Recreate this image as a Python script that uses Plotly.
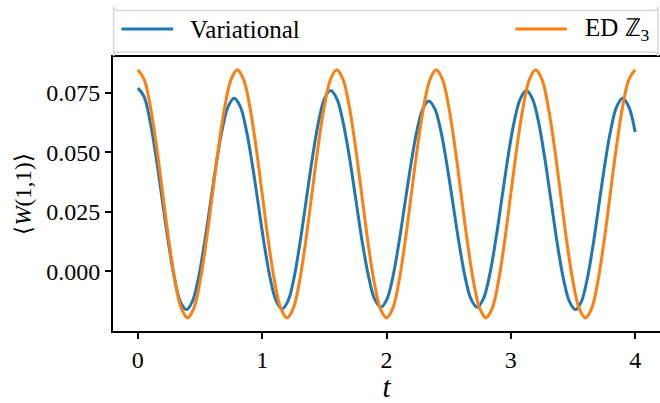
import plotly.graph_objects as go

# ED Z3 (read every 0.05 in t)
t_ed = [round(0.05 * i, 2) for i in range(81)]
v_ed = [0.0847, 0.0807, 0.0694, 0.0525, 0.0325, 0.0125, -0.0044, -0.0157,
        -0.0197, -0.0157, -0.0044, 0.0125, 0.0325, 0.0525, 0.0694, 0.0807,
        0.0847, 0.0807, 0.0694, 0.0525, 0.0325, 0.0125, -0.0044, -0.0157,
        -0.0197, -0.0157, -0.0044, 0.0125, 0.0325, 0.0525, 0.0694, 0.0807,
        0.0847, 0.0807, 0.0694, 0.0525, 0.0325, 0.0125, -0.0044, -0.0157,
        -0.0197, -0.0157, -0.0044, 0.0125, 0.0325, 0.0525, 0.0694, 0.0807,
        0.0847, 0.0807, 0.0694, 0.0525, 0.0325, 0.0125, -0.0044, -0.0157,
        -0.0197, -0.0157, -0.0044, 0.0125, 0.0325, 0.0525, 0.0694, 0.0807,
        0.0847, 0.0807, 0.0694, 0.0525, 0.0325, 0.0125, -0.0044, -0.0157,
        -0.0197, -0.0157, -0.0044, 0.0125, 0.0325, 0.0525, 0.0694, 0.0807,
        0.0847]

# Variational (read at extrema and between them)
t_var = [0.0, 0.049, 0.0975, 0.146, 0.195, 0.244, 0.2925, 0.341,
         0.39, 0.438, 0.486, 0.534, 0.583, 0.631, 0.679, 0.727,
         0.775, 0.823, 0.871, 0.919, 0.968, 1.016, 1.064, 1.112,
         1.16, 1.209, 1.2575, 1.306, 1.355, 1.404, 1.4525, 1.501,
         1.55, 1.601, 1.651, 1.702, 1.7525, 1.803, 1.854, 1.904,
         1.955, 2.003, 2.051, 2.099, 2.1475, 2.196, 2.244, 2.292,
         2.34, 2.389, 2.4375, 2.486, 2.535, 2.584, 2.6325, 2.681,
         2.73, 2.779, 2.829, 2.878, 2.9275, 2.977, 3.026, 3.076,
         3.125, 3.174, 3.224, 3.273, 3.3225, 3.372, 3.421, 3.471,
         3.52, 3.5675, 3.615, 3.6625, 3.71, 3.7575, 3.805, 3.8525,
         3.90, 3.95, 4.0]
v_var = [0.0770, 0.0735, 0.0633, 0.0482, 0.0304, 0.0126, -0.0025, -0.0127,
         -0.0162, -0.0128, -0.0032, 0.0112, 0.0283, 0.0453, 0.0597, 0.0693,
         0.0727, 0.0693, 0.0597, 0.0454, 0.0284, 0.0114, -0.0029, -0.0125,
         -0.0159, -0.0124, -0.0025, 0.0125, 0.0301, 0.0477, 0.0626, 0.0726,
         0.0760, 0.0725, 0.0626, 0.0479, 0.0304, 0.0129, -0.0018, -0.0117,
         -0.0152, -0.0119, -0.0025, 0.0116, 0.0282, 0.0448, 0.0589, 0.0683,
         0.0716, 0.0683, 0.0589, 0.0448, 0.0282, 0.0116, -0.0025, -0.0119,
         -0.0152, -0.0117, -0.0018, 0.0129, 0.0304, 0.0479, 0.0626, 0.0725,
         0.0760, 0.0725, 0.0625, 0.0476, 0.0299, 0.0122, -0.0027, -0.0127,
         -0.0162, -0.0128, -0.0032, 0.0112, 0.0283, 0.0453, 0.0597, 0.0693,
         0.0727, 0.0690, 0.0585]

x_ticks = [0, 1, 2, 3, 4]
y_ticks = [0.0, 0.025, 0.050, 0.075]
y_tick_text = ["0.000", "0.025", "0.050", "0.075"]

BLUE = "#1f77b4"
ORANGE = "#ff7f0e"
FONT = "Liberation Serif"
FS = 24

W, H = 660, 403
L, R, T, B = 113, 0, 57, 67
PW, PH = W - L - R, H - T - B

def px(xp):
    return (xp - L) / PW

def py(yp):
    return (H - B - yp) / PH

fig = go.Figure()
fig.add_trace(go.Scatter(x=t_var, y=v_var, mode="lines", name="Variational",
                         line=dict(color=BLUE, width=3, shape="spline")))
fig.add_trace(go.Scatter(x=t_ed, y=v_ed, mode="lines", name="ED ℤ<sub>3</sub>",
                         line=dict(color=ORANGE, width=3, shape="spline")))

# legend box (matplotlib-style, expanded)
x0, x1, y0, y1 = px(113.6), px(658), py(9.6), py(52)
rx, ry = 4 / PW, 4 / PH
path = (f"M{x0+rx},{y1} L{x1-rx},{y1} Q{x1},{y1} {x1},{y1-ry} "
        f"L{x1},{y0+ry} Q{x1},{y0} {x1-rx},{y0} L{x0+rx},{y0} "
        f"Q{x0},{y0} {x0},{y0+ry} L{x0},{y1-ry} Q{x0},{y1} {x0+rx},{y1} Z")
shapes = [dict(type="path", xref="paper", yref="paper", path=path,
               line=dict(color="#d6d6d6", width=1.5), fillcolor="rgba(255,255,255,0.8)"),
          dict(type="line", xref="paper", yref="paper", x0=px(121.4), x1=px(173.2),
               y0=py(28.6), y1=py(28.6), line=dict(color=BLUE, width=3)),
          dict(type="line", xref="paper", yref="paper", x0=px(515.4), x1=px(566.8),
               y0=py(28.6), y1=py(28.6), line=dict(color=ORANGE, width=3))]
annotations = [dict(xref="paper", yref="paper", x=px(188), y=py(29), text="Variational",
                    showarrow=False, xanchor="left", yanchor="middle",
                    font=dict(family=FONT, size=25, color="black")),
               dict(xref="paper", yref="paper", x=px(583), y=py(29), text="ED ℤ<sub>3</sub>",
                    showarrow=False, xanchor="left", yanchor="middle",
                    font=dict(family=FONT, size=25, color="black"))]

fig.update_layout(
    width=W, height=H, margin=dict(l=L, r=R, t=T, b=B),
    paper_bgcolor="white", plot_bgcolor="white", showlegend=False,
    font=dict(family=FONT, size=FS, color="black"),
    shapes=shapes, annotations=annotations,
    xaxis=dict(range=[-0.2, 4.2], tickvals=x_ticks, ticks="outside", ticklen=6, tickwidth=2,
               tickcolor="black", showline=True, linecolor="black", linewidth=2, mirror=True,
               showgrid=False, zeroline=False, title=dict(text="<i>t</i>", standoff=10)),
    yaxis=dict(range=[-0.0252, 0.0901], tickvals=y_ticks, ticktext=y_tick_text,
               ticks="outside", ticklen=6, tickwidth=2, tickcolor="black",
               showline=True, linecolor="black", linewidth=2, showgrid=False, zeroline=False,
               title=dict(text="⟨<i>W</i>(1,1)⟩", standoff=8, font=dict(size=23))),
)

fig.write_html("out.html")
